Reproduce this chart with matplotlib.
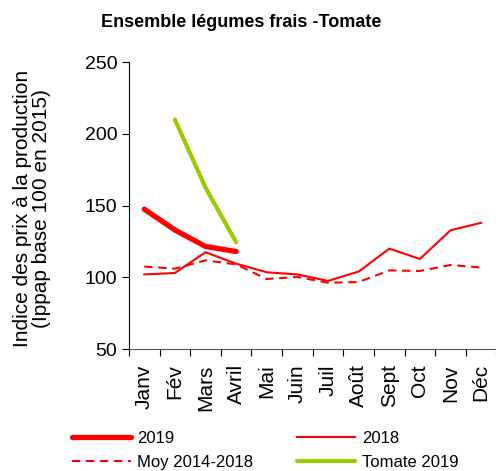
import numpy as np
import matplotlib.pyplot as plt

plt.rcParams['font.family'] = ['Liberation Sans', 'DejaVu Sans']

mois = ['Janv', 'Fév', 'Mars', 'Avril', 'Mai', 'Juin', 'Juil', 'Août',
        'Sept', 'Oct', 'Nov', 'Déc']

# indices
y2019 = [147.5, 133, 121.5, 118]
tomate2019 = [210, 162.5, 124.5]
y2018 = [102, 103, 117.5, 109.5, 103.5, 102, 97.5, 104, 120, 112.8, 132.8, 138]
moy = [107.5, 106, 111.8, 109, 98.8, 100.2, 96.2, 96.7, 104.8, 104.4, 108.6, 106.8]

fig = plt.figure(figsize=(4.96, 4.71), dpi=100)
ax = fig.add_axes([0.260, 0.259, 0.741, 0.609])

x = np.arange(len(mois))
rouge = '#ff0000'
vert = '#99cc00'

ax.plot(x[:4], y2019, color=rouge, lw=3.8, solid_capstyle='round', label='2019')
ax.plot(x, y2018, color=rouge, lw=1.5, label='2018')
ax.plot(x, moy, color=rouge, lw=1.5, ls=(0, (4, 2.7)), label='Moy 2014-2018')
ax.plot(x[1:4], tomate2019, color=vert, lw=3, solid_capstyle='round',
        label='Tomate 2019')

ax.set_xlim(-0.5, 11.5)
ax.set_ylim(50, 250)
ax.set_yticks([50, 100, 150, 200, 250])
ax.set_xticks(x)
ax.set_xticklabels(mois, rotation=90, fontsize=15)
ax.set_xticks(np.arange(-0.5, 12, 1), minor=True)
ax.tick_params(axis='x', which='major', length=0, pad=11)
ax.tick_params(axis='x', which='minor', length=5, width=0.8, direction='out')
ax.tick_params(axis='y', labelsize=14, length=5, width=0.8, direction='out')

for s in ['top', 'right']:
    ax.spines[s].set_visible(False)
ax.spines['left'].set_linewidth(0.8)
ax.spines['bottom'].set_linewidth(0.8)
ax.spines['bottom'].set_color('#555555')

ax.set_ylabel('Indice des prix à la production\n(Ippap base 100 en 2015)',
              fontsize=15, linespacing=0.95)
ax.yaxis.set_label_coords(-0.213, 0.49)

fig.text(0.487, 0.953, 'Ensemble légumes frais -Tomate', ha='center', va='center',
         fontsize=13, fontweight='bold')

h, l = ax.get_legend_handles_labels()
order = [0, 2, 1, 3]
fig.legend([h[i] for i in order], [l[i] for i in order], ncol=2,
           loc='center', bbox_to_anchor=(0.535, 0.044), frameon=False,
           fontsize=12, handlelength=3.5, columnspacing=2.6, handletextpad=0.4,
           labelspacing=0.55)

fig.savefig('out.png', dpi=100)
